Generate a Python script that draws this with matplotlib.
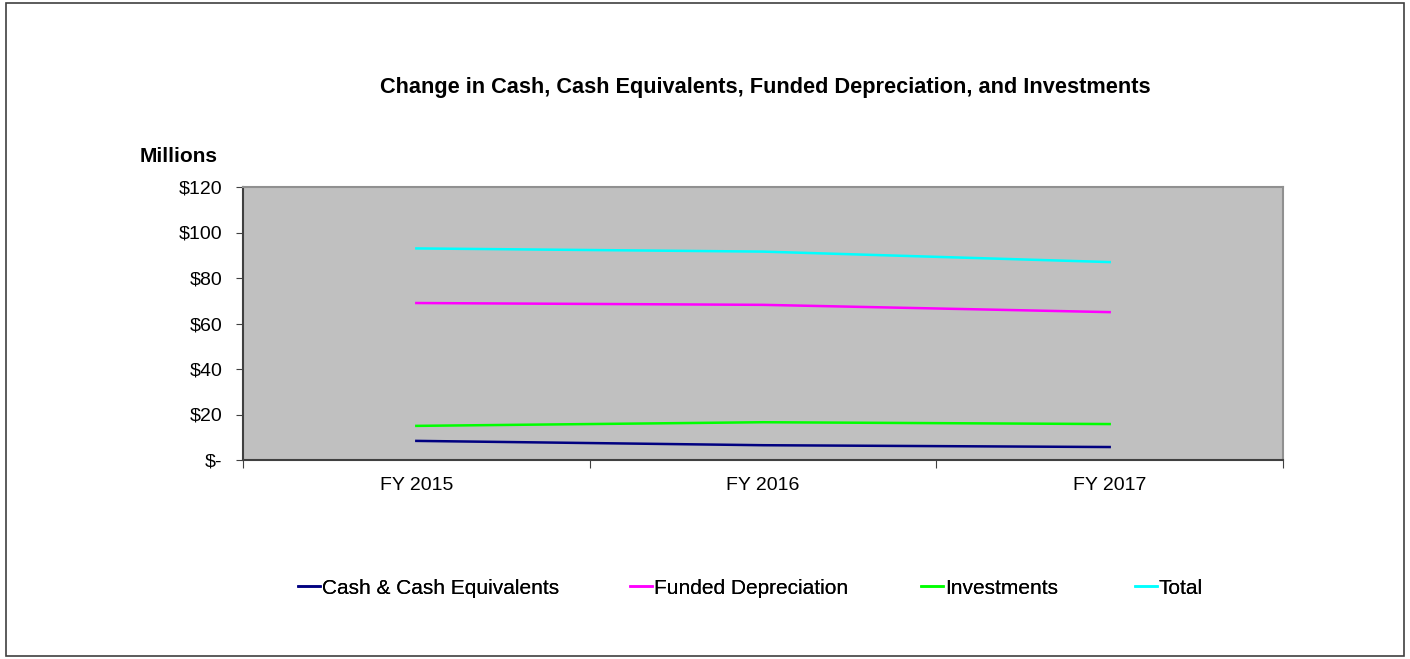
import numpy as np
import matplotlib.pyplot as plt
from matplotlib.patches import Rectangle

plt.rcParams['font.family'] = ['Liberation Sans', 'DejaVu Sans']

# Data (millions)
years = ['FY 2015', 'FY 2016', 'FY 2017']
cash = [8.4, 6.5, 5.7]
funded_dep = [69.0, 68.2, 65.0]
investments = [15.0, 16.6, 15.8]
total = [93.0, 91.6, 87.0]
y_ticks = [0, 20, 40, 60, 80, 100, 120]
y_labels = ['$-', '$20', '$40', '$60', '$80', '$100', '$120']

W, H = 1410, 659
fig = plt.figure(figsize=(14.1, 6.59), dpi=100)
fig.patches.append(Rectangle((0.004, 0.005), 0.992, 0.99, transform=fig.transFigure,
                             fill=False, edgecolor='#404040', linewidth=1.2))

ax = fig.add_axes([243 / W, 1 - 460 / H, (1283 - 243) / W, (460 - 187) / H])
ax.set_facecolor('#c0c0c0')

x = np.arange(len(years)) + 0.5
lines = []
lines += ax.plot(x, cash, color='#000080', lw=1.8, label='Cash & Cash Equivalents')
lines += ax.plot(x, funded_dep, color='#ff00ff', lw=1.8, label='Funded Depreciation')
lines += ax.plot(x, investments, color='#00ff00', lw=1.8, label='Investments')
lines += ax.plot(x, total, color='#00ffff', lw=1.8, label='Total')

ax.set_xlim(0, len(years))
ax.set_ylim(0, 120)
ax.set_xticks(np.arange(len(years) + 1))
ax.set_xticklabels([])
ax.set_xticks(x, minor=True)
ax.set_xticklabels(years, minor=True, fontsize=14)
ax.tick_params(axis='x', which='minor', length=0, pad=12)
ax.tick_params(axis='x', which='major', length=6, direction='out', color='#404040')
ax.set_yticks(y_ticks)
ax.set_yticklabels(y_labels, fontsize=14)
ax.tick_params(axis='y', length=5, color='#404040', pad=10)

for s in ['left', 'bottom']:
    ax.spines[s].set_color('#404040')
    ax.spines[s].set_linewidth(1.5)
for s in ['top', 'right']:
    ax.spines[s].set_color('#909090')
    ax.spines[s].set_linewidth(1.5)

fig.text(765 / W, 1 - 87 / H, 'Change in Cash, Cash Equivalents, Funded Depreciation, and Investments',
         ha='center', va='center', fontsize=15.7, fontweight='bold')
fig.text(179 / W, 1 - 156 / H, 'Millions', ha='center', va='center', fontsize=15, fontweight='bold')

# legend entries placed individually, as in the original layout
legend_x = [298, 630, 921, 1135]
for ln, lx in zip(lines, legend_x):
    leg = fig.legend(handles=[ln], loc='center left', bbox_to_anchor=(lx / W, 1 - 588 / H),
                     frameon=False, fontsize=15, handlelength=1.05, handletextpad=0.1,
                     borderpad=0, borderaxespad=0)
    fig.add_artist(leg)

fig.savefig('out.png', dpi=100)
